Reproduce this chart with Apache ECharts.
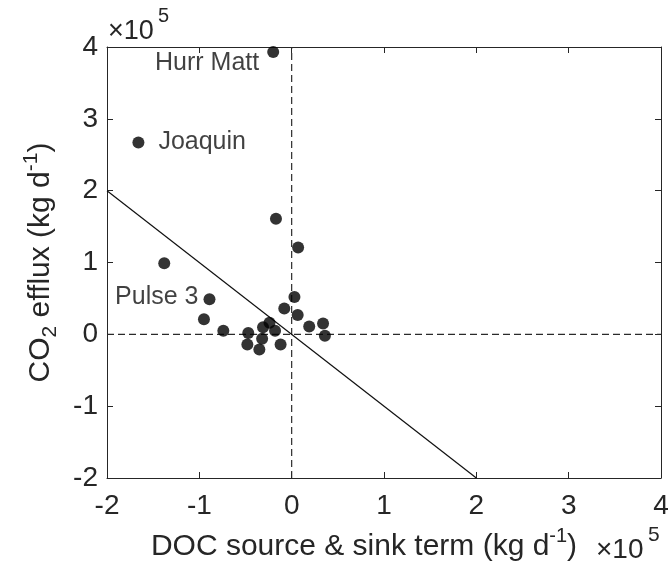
<!DOCTYPE html>
<html><head><meta charset="utf-8">
<script src="https://cdn.jsdelivr.net/npm/echarts@6/dist/echarts.min.js"></script>
<style>html,body{margin:0;padding:0;background:#fff}#c{width:669px;height:564px}</style>
</head><body><div id="c"></div>
<script>
// values in units of 1e5 kg/d
const xVals = [-0.20, -1.66, -0.17, 0.07, -1.38, -0.89, -0.95, -0.74, -0.47, -0.48, -0.35, -0.32, -0.31, -0.24, -0.18, -0.12, -0.08, 0.03, 0.065, 0.19, 0.34, 0.36];
const yVals = [3.93, 2.67, 1.61, 1.21, 0.99, 0.49, 0.21, 0.05, 0.02, -0.14, -0.21, -0.06, 0.10, 0.16, 0.05, -0.14, 0.36, 0.52, 0.27, 0.11, 0.15, -0.02];
const pointLabels = ['Hurr Matt', 'Joaquin', '', '', '', 'Pulse 3', '', '', '', '', '', '', '', '', '', '', '', '', '', '', '', ''];
const xRange = [-2, 4];
const yRange = [-2, 4];
const fitX = [-2, 2];
const fitY = [2, -2];
const vZeroX = [0, 0], vZeroY = [-2, 4];
const hZeroX = [-2, 4], hZeroY = [0, 0];

const FONT = "'Liberation Sans', Arial, Helvetica, sans-serif";
const AX = '#262626';
const labelSpec = {
  'Hurr Matt': {position: 'left', distance: 8, offset: [0, 11]},
  'Joaquin': {position: 'right', distance: 14, offset: [0, 0]},
  'Pulse 3': {position: 'left', distance: 5, offset: [0, -2]}
};

const scatterData = xVals.map((x, i) => {
  const item = {value: [x, yVals[i]]};
  const name = pointLabels[i];
  if (name) {
    const s = labelSpec[name];
    item.label = {show: true, formatter: name, position: s.position, distance: s.distance, offset: s.offset,
      fontSize: 25, fontFamily: FONT, color: '#111'};
  }
  return item;
});

const baseAxis = (extra) => Object.assign({
  type: 'value', interval: 1,
  axisLine: {show: true, onZero: false, lineStyle: {color: AX, width: 1}},
  axisTick: {show: true, inside: true, length: 6, lineStyle: {color: AX}},
  splitLine: {show: false},
}, extra);

const txt = (text, x, y, size) => ({type: 'text', x: x, y: y, z: 10,
  style: {text: text, fontSize: size, fontFamily: FONT, fill: AX}});

const chart = echarts.init(document.getElementById('c'), null, {renderer: 'canvas'});
chart.setOption({
  animation: false,
  backgroundColor: '#fff',
  grid: {left: 107, right: 8, top: 47, bottom: 86, containLabel: false, outerBoundsMode: 'none'},
  xAxis: [
    baseAxis({min: xRange[0], max: xRange[1], position: 'bottom',
      axisLabel: {fontSize: 28, fontFamily: FONT, color: AX, margin: 14},
      name: '{n|DOC source & sink term (kg d}{sup|-1}{n|)}', nameLocation: 'middle', nameGap: 48,
      nameTextStyle: {fontFamily: FONT, color: AX, padding: [0, 40, 0, 0],
        rich: {n: {fontSize: 30, fontFamily: FONT, color: AX, lineHeight: 36, verticalAlign: 'bottom'},
               sup: {fontSize: 20, fontFamily: FONT, color: AX, lineHeight: 36, verticalAlign: 'top', padding: [0,0,12,0]}}}}),
    baseAxis({min: xRange[0], max: xRange[1], position: 'top', axisLabel: {show: false}})
  ],
  yAxis: [
    baseAxis({min: yRange[0], max: yRange[1], position: 'left',
      axisLabel: {fontSize: 28, fontFamily: FONT, color: AX, margin: 9},
      name: '{n|CO}{sub|2}{n| efflux (kg d}{sup|-1}{n|)}', nameLocation: 'middle', nameGap: 46,
      nameTextStyle: {fontFamily: FONT, color: AX,
        rich: {n: {fontSize: 30, fontFamily: FONT, color: AX, lineHeight: 40, verticalAlign: 'middle'},
               sub: {fontSize: 21, fontFamily: FONT, color: AX, lineHeight: 40, verticalAlign: 'bottom'},
               sup: {fontSize: 21, fontFamily: FONT, color: AX, lineHeight: 40, verticalAlign: 'top'}}}}),
    baseAxis({min: yRange[0], max: yRange[1], position: 'right', axisLabel: {show: false}})
  ],
  graphic: [
    txt('×10', 108, 18, 27),
    txt('5', 158, 6, 20),
    txt('×10', 596, 536, 28),
    txt('5', 648, 525, 21)
  ],
  series: [
    {type: 'line', data: vZeroX.map((x, i) => [x, vZeroY[i]]), symbol: 'none', silent: true,
      lineStyle: {color: '#2a2a2a', width: 1.2, type: [7, 4]}},
    {type: 'line', data: hZeroX.map((x, i) => [x, hZeroY[i]]), symbol: 'none', silent: true,
      lineStyle: {color: '#2a2a2a', width: 1.2, type: [7, 4]}},
    {type: 'line', data: fitX.map((x, i) => [x, fitY[i]]), symbol: 'none', silent: true,
      lineStyle: {color: '#111', width: 1.2}},
    {type: 'scatter', data: scatterData, symbol: 'circle', symbolSize: 12,
      itemStyle: {color: '#000'}, z: 5}
  ]
});
</script></body></html>
